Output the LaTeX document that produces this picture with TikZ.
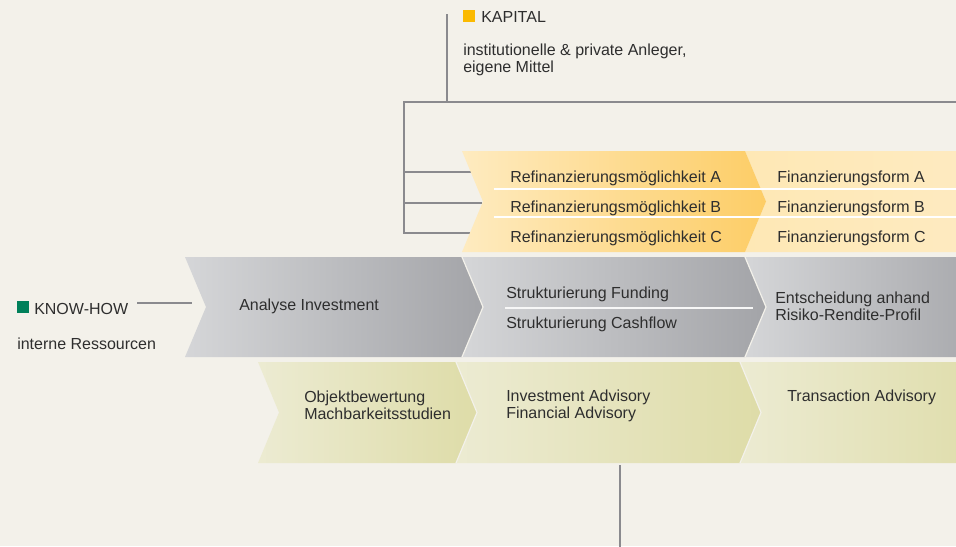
\documentclass[tikz,border=0pt]{standalone}
\usepackage{fontspec}
\setmainfont{Liberation Sans}
\definecolor{bgc}{HTML}{F3F1EA}
\definecolor{txtc}{HTML}{2E2E2E}
\definecolor{linec}{HTML}{8A8A8E}
\definecolor{yelL}{HTML}{FEEBC0}
\definecolor{yelR}{HTML}{FDCD66}
\definecolor{yelPale}{HTML}{FEE8B5}
\definecolor{yelPale2}{HTML}{FEEBC2}
\definecolor{gryL}{HTML}{D5D6D8}
\definecolor{gryR}{HTML}{A3A4A8}
\definecolor{grnL}{HTML}{ECEBD2}
\definecolor{grnR}{HTML}{DEDCA8}
\definecolor{kapsq}{HTML}{FBBA00}
\definecolor{khsq}{HTML}{00805A}
\newcommand\mychev[4]{({#1},{#3}) -- ({#2},{#3}) -- ({#2+21},{(#3+#4)/2}) -- ({#2},{#4}) -- ({#1},{#4}) -- ({#1+21},{(#3+#4)/2}) -- cycle}
\newcommand\mynotch[4]{({#1},{#3}) -- ({#1+21},{(#3+#4)/2}) -- ({#1},{#4})}
\begin{document}
\begin{tikzpicture}[x=0.75pt,y=-0.75pt,
  txt/.style={anchor=west, inner sep=0pt, yshift=-1.2pt, font=\fontsize{12}{12.75}\selectfont, text=txtc, align=left},
  conn/.style={draw=linec, line width=1.5pt},
  sep/.style={draw=bgc, line width=0.9pt},
  wline/.style={draw=white, line width=1.1pt},
  sq/.style={inner sep=0pt, minimum size=9pt}]
\fill[bgc] (0,0) rectangle (956,546);
\useasboundingbox (0,0) rectangle (956,546);
\begin{scope}
\clip (0,0) rectangle (956,546);
% connector points
\coordinate (kTop) at (447,14);
\coordinate (kJoin) at (447,101.5);
\coordinate (bL) at (404,101.5);
\coordinate (bR) at (960,101.5);
\coordinate (bA) at (404,172);
\coordinate (bB) at (404,203);
\coordinate (bC) at (404,233);
\coordinate (rA) at (471,172);
\coordinate (rB) at (482,203);
\coordinate (rC) at (471,233);
\coordinate (khEnd) at (192,303);
\coordinate (botTop) at (620,465);
\coordinate (botEnd) at (620,550);
\draw[conn] (kTop) -- (kJoin);
\draw[conn] (bR) -- (bL) -- (bC) -- (rC);
\draw[conn] (bA) -- (rA);
\draw[conn] (bB) -- (rB);
\draw[conn] (botTop) -- (botEnd);
% yellow band
\shade[left color=yelPale, right color=yelPale2] \mychev{745}{980}{151}{252};
\shade[left color=yelL, right color=yelR] \mychev{462}{745}{151}{252};
\draw[wline] (494,189) -- (960,189);
\draw[wline] (494,217) -- (960,217);
% gray band
\shade[left color=gryL, right color=gryR] \mychev{185}{462}{257}{357};
\shade[left color=gryL, right color=gryR] \mychev{462}{745}{257}{357};
\shade[left color=gryL, right color=gryR] \mychev{745}{980}{257}{357};
\draw[sep] \mynotch{462}{745}{257}{357};
\draw[sep] \mynotch{745}{980}{257}{357};
\draw[draw=white!80!gryL, line width=1.1pt] (505,308) -- (753,308);
% green band
\shade[left color=grnL, right color=grnR] \mychev{258}{456}{362}{463};
\shade[left color=grnL, right color=grnR] \mychev{456}{740}{362}{463};
\shade[left color=grnL, right color=grnR] \mychev{740}{980}{362}{463};
\draw[sep] \mynotch{456}{740}{362}{463};
\draw[sep] \mynotch{740}{980}{362}{463};
\end{scope}
% squares and legends
\node[sq, fill=kapsq] (kapsq) at (469,15.5) {};
\node[txt] (kapital) at (481,15.5) {KAPITAL};
\node[txt] (kapdesc) at (463,58.5) {institutionelle \& private Anleger,\\eigene Mittel};
\node[sq, fill=khsq] (khsq) at (23,307) {};
\node[txt] (knowhow) at (34,307) {KNOW-HOW};
\node[txt] (intern) at (17,342) {interne Ressourcen};
\coordinate (khStart) at (137,303);
\draw[conn] (khStart) -- (khEnd);
% yellow texts
\node[txt] (refA) at (510,176.5) {Refinanzierungsmöglichkeit A};
\node[txt] (refB) at (510,207) {Refinanzierungsmöglichkeit B};
\node[txt] (refC) at (510,237) {Refinanzierungsmöglichkeit C};
\node[txt] (finA) at (777,176.5) {Finanzierungsform A};
\node[txt] (finB) at (777,207) {Finanzierungsform B};
\node[txt] (finC) at (777,237) {Finanzierungsform C};
% gray texts
\node[txt] (analyse) at (239,305) {Analyse Investment};
\node[txt] (strukF) at (506,293) {Strukturierung Funding};
\node[txt] (strukC) at (506,323) {Strukturierung Cashflow};
\node[txt] (entsch) at (775,305) {Entscheidung anhand\\Risiko-Rendite-Profil};
% green texts
\node[txt] (objekt) at (304,404) {Objektbewertung\\Machbarkeitsstudien};
\node[txt] (invadv) at (506,404) {Investment Advisory\\Financial Advisory};
\node[txt] (transadv) at (787,396) {Transaction Advisory};
\end{tikzpicture}
\end{document}
